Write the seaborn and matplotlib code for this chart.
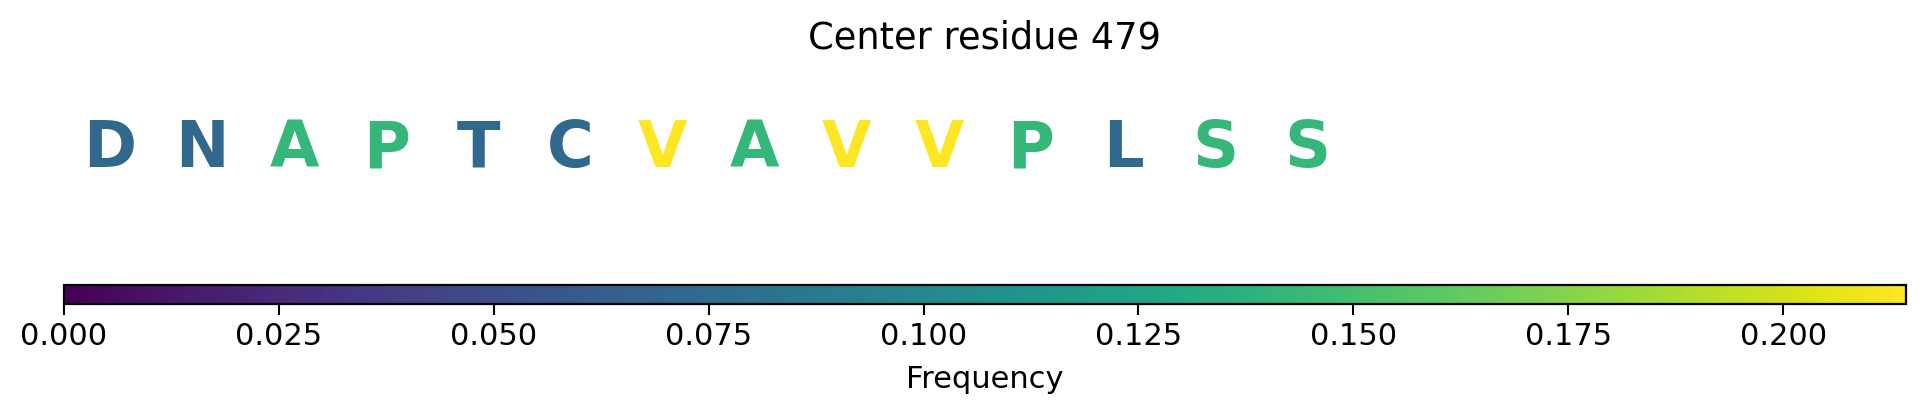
import numpy as np
import matplotlib
matplotlib.use("Agg")
import matplotlib.pyplot as plt
import seaborn as sns

# residue window around the center residue
residues = ["D", "N", "A", "P", "T", "C", "V", "A", "V", "V", "P", "L", "S", "S"]
frequencies = [0.0714, 0.0714, 0.1429, 0.1429, 0.0714, 0.0714, 0.2143,
               0.1429, 0.2143, 0.2143, 0.1429, 0.0714, 0.1429, 0.1429]
center_residue = 479
window_size = 20

sns.set_style("ticks")
plt.rcParams['font.family'] = ['DejaVu Sans']
plt.rcParams['text.color'] = 'black'
plt.rcParams['axes.labelcolor'] = 'black'
plt.rcParams['xtick.color'] = 'black'
plt.rcParams['axes.edgecolor'] = 'black'

fig = plt.figure(figsize=(19.27, 4.16), dpi=100)
ax = fig.add_axes([0.0332, 0.35, 0.9559, 0.6])
cax = fig.add_axes([0.0332, 0.269, 0.9559, 0.0457])

cmap = sns.color_palette("viridis", as_cmap=True)
norm = plt.Normalize(0, max(frequencies))

for pos, (res, freq) in enumerate(zip(residues, frequencies)):
    ax.text(pos, 0.414, res, color=cmap(norm(freq)), fontsize=46,
            fontweight='bold', ha='center', va='baseline')

ax.set_xlim(-0.5, window_size - 0.5)
ax.set_ylim(0, 1)
ax.axis('off')
ax.set_title(f"Center residue {center_residue}", fontsize=26.5, y=0.89, pad=0,
             color='black')

sm = plt.cm.ScalarMappable(cmap=cmap, norm=norm)
sm.set_array([])
cbar = fig.colorbar(sm, cax=cax, orientation='horizontal')
cbar.set_label('Frequency', fontsize=22, labelpad=10, color='black')
cbar.ax.tick_params(labelsize=22, length=8, width=1.5, pad=5,
                    colors='black')
cbar.outline.set_linewidth(1.6)
cbar.outline.set_edgecolor('black')

fig.savefig('out.png', dpi=100)
